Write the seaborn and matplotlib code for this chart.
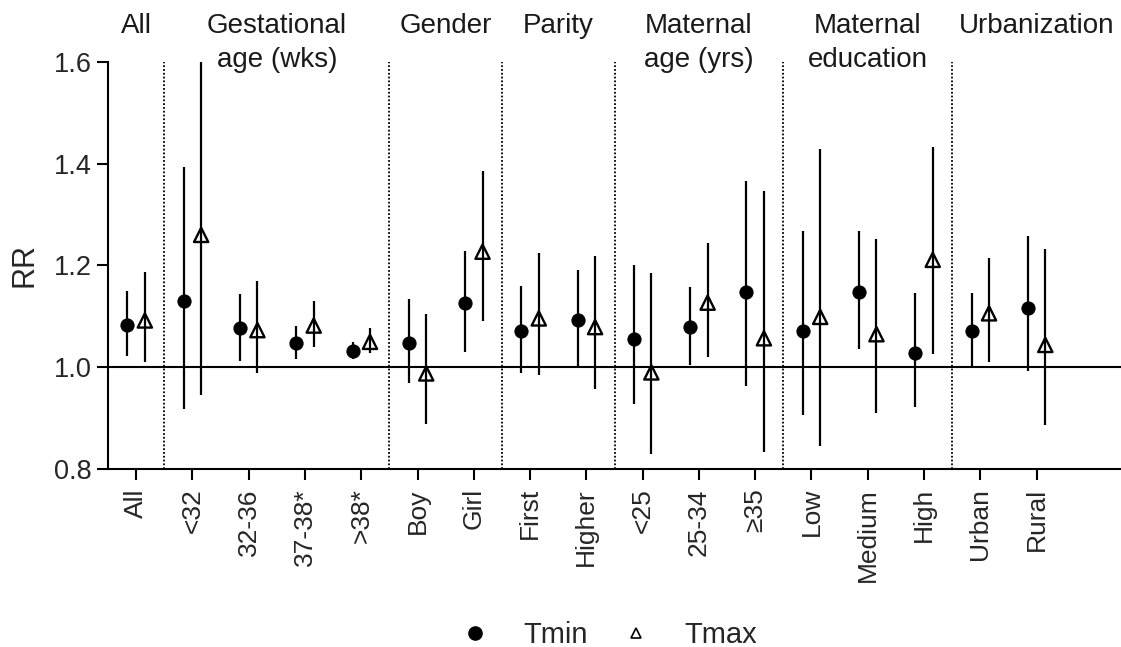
import numpy as np
import pandas as pd
import matplotlib
matplotlib.use("Agg")
import matplotlib.pyplot as plt
import matplotlib.transforms as mtransforms
from matplotlib.lines import Line2D
import seaborn as sns

# ---------------- data ----------------
categories = ["All", "<32", "32-36", "37-38*", ">38*", "Boy", "Girl", "First", "Higher",
              "<25", "25-34", "≥35", "Low", "Medium", "High", "Urban", "Rural"]

tmin_rr = [1.084, 1.131, 1.077, 1.048, 1.033, 1.048, 1.126, 1.072, 1.093,
           1.056, 1.079, 1.147, 1.072, 1.147, 1.028, 1.071, 1.117]
tmin_lo = [1.022, 0.918, 1.013, 1.017, 1.017, 0.969, 1.031, 0.988, 1.000,
           0.928, 1.005, 0.963, 0.906, 1.036, 0.923, 1.001, 0.993]
tmin_hi = [1.150, 1.394, 1.144, 1.081, 1.050, 1.134, 1.229, 1.160, 1.191,
           1.200, 1.158, 1.366, 1.268, 1.268, 1.145, 1.145, 1.257]

tmax_rr = [1.092, 1.260, 1.073, 1.082, 1.050, 0.988, 1.227, 1.096, 1.079,
           0.990, 1.127, 1.057, 1.099, 1.065, 1.211, 1.106, 1.044]
tmax_lo = [1.010, 0.946, 0.988, 1.039, 1.029, 0.889, 1.090, 0.984, 0.957,
           0.830, 1.021, 0.834, 0.846, 0.910, 1.026, 1.010, 0.887]
tmax_hi = [1.187, 1.600, 1.170, 1.130, 1.077, 1.105, 1.386, 1.225, 1.219,
           1.186, 1.245, 1.346, 1.429, 1.251, 1.433, 1.215, 1.232]

group_labels = ["All", "Gestational\nage (wks)", "Gender", "Parity",
                "Maternal\nage (yrs)", "Maternal\neducation", "Urbanization"]
group_sizes = [1, 4, 2, 2, 3, 3, 2]

y_ticks = [0.8, 1.0, 1.2, 1.4, 1.6]
series_names = ["Tmin", "Tmax"]

# ---------------- style ----------------
sns.set_theme(style="ticks")
plt.rcParams["font.family"] = ["Liberation Sans", "DejaVu Sans"]
plt.rcParams["axes.linewidth"] = 1.5

W, H = 1121, 647
fig = plt.figure(figsize=(W / 100, H / 100), dpi=100)
ax_left, ax_right, ax_top, ax_bottom = 108, 1121, 61.7, 469.2
ax = fig.add_axes([ax_left / W, 1 - ax_bottom / H,
                   (ax_right - ax_left) / W, (ax_bottom - ax_top) / H])

n = len(categories)
x = np.arange(n)
off = 0.155
xlim_right = n - 1 + 1.5

df_min = pd.DataFrame({"x": x - off, "rr": tmin_rr, "lo": tmin_lo, "hi": tmin_hi})
df_max = pd.DataFrame({"x": x + off, "rr": tmax_rr, "lo": tmax_lo, "hi": tmax_hi})

# reference line
ax.axhline(1.0, color="black", lw=1.5, zorder=1)

# group separators
bounds = np.cumsum(group_sizes)[:-1] - 0.5
ax.vlines(bounds, y_ticks[0], y_ticks[-1], colors="black",
          linestyles=(0, (1, 1.1)), lw=1.3, zorder=1)

# confidence intervals
ax.vlines(df_min["x"], df_min["lo"], df_min["hi"], colors="black", lw=1.6, zorder=2)
ax.vlines(df_max["x"], df_max["lo"], df_max["hi"], colors="black", lw=1.6, zorder=2)

# point estimates
sns.scatterplot(data=df_min, x="x", y="rr", marker="o", s=105, color="black",
                linewidth=0, ax=ax, zorder=3, legend=False)
sns.scatterplot(data=df_max, x="x", y="rr", marker="^", s=105, facecolor="none",
                edgecolor="black", linewidth=1.7, ax=ax, zorder=3, legend=False)

# axes
ax.set_xlim(-0.5, xlim_right)
ax.set_ylim(y_ticks[0], y_ticks[-1])
ax.set_xticks(x)
ax.set_xticklabels(categories, rotation=90, fontsize=19)
ax.set_yticks(y_ticks)
ax.set_yticklabels([f"{v:.1f}" for v in y_ticks], fontsize=19.5)
ax.tick_params(axis="x", length=7.7, width=1.5, pad=6, color="black")
ax.tick_params(axis="y", length=7.7, width=1.5, pad=4, color="black")
ax.set_xlabel("")
ax.set_ylabel("RR", fontsize=22, labelpad=10)
sns.despine(ax=ax)
for sp in ax.spines.values():
    sp.set_color("black")

# group labels
edges = np.concatenate([[-0.5], bounds, [xlim_right]])
centers = (edges[:-1] + edges[1:]) / 2
trans = mtransforms.blended_transform_factory(ax.transData, fig.transFigure)
for cx, lab in zip(centers, group_labels):
    ax.text(cx, 1 - 13 / H, lab, transform=trans, ha="center", va="top",
            fontsize=20, linespacing=1.38, color="#1a1a1a")

# legend
handles = [
    Line2D([], [], marker="o", color="black", linestyle="none", markersize=9.5),
    Line2D([], [], marker="^", markerfacecolor="none", markeredgecolor="black",
           markeredgewidth=1.2, linestyle="none", markersize=6.5),
]
fig.legend(handles, series_names, loc="center", bbox_to_anchor=(609 / W, 1 - 635 / H),
           ncol=2, frameon=False, fontsize=21, handlelength=1.0,
           handletextpad=1.15, columnspacing=1.15)

fig.savefig("out.png", dpi=100)
